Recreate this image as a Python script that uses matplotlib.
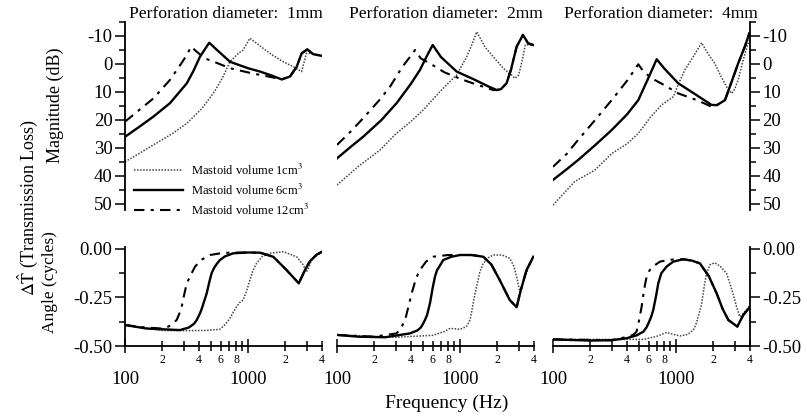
import matplotlib
matplotlib.use("Agg")
import matplotlib.pyplot as plt
from matplotlib.ticker import FixedLocator, FuncFormatter, NullLocator

plt.rcParams["font.family"] = ["Liberation Serif", "DejaVu Serif"]
plt.rcParams["mathtext.fontset"] = "stix"
plt.rcParams["axes.unicode_minus"] = False

DIAMETERS = ["1mm", "2mm", "4mm"]
VOLUME_LABELS = ["Mastoid volume 1cm$^3$", "Mastoid volume 6cm$^3$", "Mastoid volume 12cm$^3$"]

# ---- magnitude (dB), perforation 1mm ----
MAG1_F_V1 = [100, 130, 170, 240, 318, 420, 522, 620, 714, 834, 914, 1036, 1250, 1508, 1900, 2342, 2731, 2988, 3290, 3600, 4000]
MAG1_V1 = [34.9, 32, 28.9, 25, 21.2, 16, 10.5, 5, -0.8, -3.8, -5, -9.2, -6.5, -3.8, -1, 1, 2.7, -3.8, -3.8, -3.3, -2.9]
MAG1_F_V6 = [100, 130, 170, 232, 318, 360, 407, 484, 560, 714, 1000, 1253, 1600, 1879, 2193, 2490, 2731, 3036, 3400, 4000]
MAG1_V6 = [26, 22.5, 18.8, 14, 6.9, 2.5, -2.6, -7.6, -5, -0.8, 1.5, 2.7, 4.3, 5.5, 4.5, 1, -3.8, -5.2, -3.5, -2.9]
MAG1_F_V12 = [100, 130, 170, 232, 290, 318, 345, 380, 448, 550, 714, 1000, 1253, 1600, 1879, 2193, 2490, 2731, 3036, 3400, 4000]
MAG1_V12 = [20.6, 16.5, 12.3, 5.7, -0.5, -3.2, -6.2, -4.5, -2, -0.5, 1.5, 3, 3.9, 4.8, 5.5, 4.5, 1, -3.8, -5.2, -3.5, -2.9]

# ---- magnitude (dB), perforation 2mm ----
MAG2_F_V1 = [100, 150, 224, 300, 400, 503, 700, 940, 1136, 1250, 1370, 1600, 1863, 2250, 2625, 2800, 3000, 3165, 3400, 4000]
MAG2_V1 = [43.2, 36.5, 30.7, 25, 20.5, 16.4, 9.5, 3.9, -2.6, -7, -11.5, -6, -2.6, 1.5, 3.9, 5.1, 4, -0.2, -6.8, -6.8]
MAG2_F_V6 = [100, 130, 163, 230, 305, 400, 473, 540, 600, 700, 940, 1300, 1700, 1989, 2150, 2392, 2600, 2890, 3254, 3578, 3940]
MAG2_V6 = [33.7, 29.5, 26, 20, 14, 7, 2.1, -3, -6.8, -2.5, 2.7, 5.5, 8, 9.3, 9, 6.9, 2, -6.2, -10.4, -7.4, -6.8]
MAG2_F_V12 = [100, 130, 163, 220, 270, 340, 400, 431, 480, 570, 750, 1064, 1400, 1863, 1989, 2150, 2392, 2600, 2890, 3254, 3578, 3940]
MAG2_V12 = [28.9, 24, 19.4, 13, 8.1, 1, -3, -5, -2, -0.2, 3, 5.7, 7.5, 9.3, 9.3, 9, 6.9, 2, -6.2, -10.4, -7.4, -6.8]

# ---- magnitude (dB), perforation 4mm ----
MAG3_F_V1 = [100, 150, 219, 300, 400, 494, 620, 765, 952, 1050, 1181, 1400, 1618, 1800, 2068, 2300, 2574, 2840, 3000, 3204, 3500, 3860, 4000]
MAG3_V1 = [50.4, 42, 37.9, 32, 28.5, 24.8, 19, 14.6, 11.7, 7, 2.1, -3, -7.6, -4, -0.2, 4, 8.1, 10.5, 9, 5.7, -1, -7.4, -9]
MAG3_F_V6 = [100, 130, 160, 220, 300, 400, 494, 595, 697, 800, 1043, 1400, 1944, 2150, 2504, 2800, 3204, 3630, 3950]
MAG3_V6 = [41.4, 37.5, 34.3, 29, 23.6, 18, 12.9, 5.1, -1.7, 1.5, 6.9, 10.5, 14.6, 14.7, 12.9, 7, -0.2, -6.2, -11]
MAG3_F_V12 = [100, 130, 160, 220, 300, 400, 494, 540, 634, 800, 1043, 1500, 2004, 2150, 2504, 2800, 3204, 3630, 3950]
MAG3_V12 = [36.7, 32, 27.1, 20, 12.9, 6, 0.1, 2.5, 5.1, 7.5, 10.5, 13, 15.5, 14.7, 12.9, 7, -0.2, -6.2, -11]

# ---- angle (cycles), perforation 1mm ----
ANG1_F_V1 = [100, 200, 318, 450, 591, 650, 714, 760, 808, 860, 914, 970, 1036, 1100, 1174, 1300, 1508, 1936, 2484, 2800, 2988, 3100, 3283, 3600, 4000]
ANG1_V1 = [-0.392, -0.42, -0.421, -0.42, -0.414, -0.39, -0.357, -0.325, -0.297, -0.275, -0.263, -0.22, -0.16, -0.11, -0.074, -0.04, -0.022, -0.014, -0.04, -0.08, -0.117, -0.1, -0.057, -0.035, -0.014]
ANG1_F_V6 = [100, 150, 205, 280, 330, 365, 383, 405, 420, 440, 462, 485, 506, 530, 560, 591, 650, 760, 1000, 1253, 1606, 2057, 2588, 2900, 3175, 3600, 4000]
ANG1_V6 = [-0.392, -0.41, -0.414, -0.418, -0.405, -0.385, -0.366, -0.335, -0.31, -0.27, -0.228, -0.17, -0.125, -0.098, -0.075, -0.057, -0.038, -0.022, -0.018, -0.019, -0.04, -0.108, -0.177, -0.11, -0.065, -0.03, -0.014]
ANG1_F_V12 = [100, 150, 200, 225, 245, 263, 276, 289, 303, 318, 345, 371, 420, 491, 600, 700, 1000, 1253, 1606, 2057, 2588, 2900, 3175, 3600, 4000]
ANG1_V12 = [-0.392, -0.405, -0.41, -0.4, -0.385, -0.366, -0.335, -0.297, -0.235, -0.177, -0.13, -0.091, -0.055, -0.031, -0.022, -0.019, -0.018, -0.019, -0.04, -0.108, -0.177, -0.11, -0.065, -0.03, -0.014]

# ---- angle (cycles), perforation 2mm ----
ANG2_F_V1 = [100, 300, 600, 750, 832, 1000, 1130, 1206, 1240, 1280, 1320, 1365, 1450, 1545, 1700, 1863, 2200, 2540, 2750, 2890, 3082, 3200, 3380, 3700, 3950]
ANG2_V1 = [-0.443, -0.455, -0.445, -0.425, -0.409, -0.414, -0.4, -0.366, -0.33, -0.28, -0.235, -0.194, -0.12, -0.074, -0.045, -0.031, -0.031, -0.048, -0.09, -0.143, -0.228, -0.19, -0.143, -0.08, -0.04]
ANG2_F_V6 = [100, 150, 246, 392, 450, 480, 503, 520, 540, 555, 570, 585, 600, 626, 650, 680, 731, 850, 1000, 1250, 1550, 1800, 2105, 2540, 2890, 3100, 3480, 3950]
ANG2_V6 = [-0.443, -0.452, -0.455, -0.435, -0.42, -0.405, -0.383, -0.365, -0.34, -0.31, -0.28, -0.24, -0.2, -0.143, -0.11, -0.09, -0.057, -0.04, -0.031, -0.031, -0.04, -0.08, -0.16, -0.263, -0.3, -0.22, -0.108, -0.04]
ANG2_F_V12 = [100, 200, 305, 330, 358, 380, 405, 440, 473, 530, 605, 800, 1000, 1250, 1550, 1800, 2105, 2540, 2890, 3100, 3480, 3950]
ANG2_V12 = [-0.443, -0.452, -0.435, -0.41, -0.366, -0.3, -0.228, -0.15, -0.108, -0.065, -0.04, -0.031, -0.031, -0.031, -0.04, -0.08, -0.16, -0.263, -0.3, -0.22, -0.108, -0.04]

# ---- angle (cycles), perforation 4mm ----
ANG3_F_V1 = [100, 543, 700, 838, 950, 1077, 1250, 1382, 1450, 1500, 1560, 1620, 1700, 1772, 1900, 2069, 2300, 2577, 2850, 3108, 3300, 3630, 4000]
ANG3_V1 = [-0.466, -0.466, -0.45, -0.43, -0.44, -0.448, -0.44, -0.418, -0.39, -0.36, -0.32, -0.28, -0.19, -0.125, -0.08, -0.071, -0.09, -0.125, -0.21, -0.297, -0.349, -0.323, -0.29]
ANG3_F_V6 = [100, 200, 300, 397, 480, 543, 575, 600, 628, 654, 670, 690, 718, 760, 838, 950, 1146, 1350, 1565, 1850, 2140, 2400, 2667, 3152, 3529, 3990]
ANG3_V6 = [-0.466, -0.472, -0.47, -0.46, -0.445, -0.426, -0.405, -0.38, -0.35, -0.314, -0.28, -0.24, -0.177, -0.125, -0.091, -0.065, -0.053, -0.06, -0.074, -0.14, -0.228, -0.31, -0.366, -0.4, -0.34, -0.3]
ANG3_F_V12 = [100, 300, 420, 455, 478, 500, 526, 550, 577, 610, 650, 742, 900, 1146, 1350, 1565, 1850, 2140, 2400, 2667, 3152, 3529, 3990]
ANG3_V12 = [-0.466, -0.47, -0.45, -0.44, -0.426, -0.37, -0.297, -0.21, -0.143, -0.11, -0.09, -0.065, -0.055, -0.053, -0.06, -0.074, -0.14, -0.228, -0.31, -0.366, -0.4, -0.34, -0.3]

MAG_CURVES = [
    [(MAG1_F_V1, MAG1_V1), (MAG1_F_V6, MAG1_V6), (MAG1_F_V12, MAG1_V12)],
    [(MAG2_F_V1, MAG2_V1), (MAG2_F_V6, MAG2_V6), (MAG2_F_V12, MAG2_V12)],
    [(MAG3_F_V1, MAG3_V1), (MAG3_F_V6, MAG3_V6), (MAG3_F_V12, MAG3_V12)],
]
ANG_CURVES = [
    [(ANG1_F_V1, ANG1_V1), (ANG1_F_V6, ANG1_V6), (ANG1_F_V12, ANG1_V12)],
    [(ANG2_F_V1, ANG2_V1), (ANG2_F_V6, ANG2_V6), (ANG2_F_V12, ANG2_V12)],
    [(ANG3_F_V1, ANG3_V1), (ANG3_F_V6, ANG3_V6), (ANG3_F_V12, ANG3_V12)],
]

STYLES = [
    dict(color="#444444", lw=1.1, linestyle=(0, (1, 1))),
    dict(color="black", lw=1.7, linestyle="-"),
    dict(color="black", lw=1.5, linestyle=(0, (5, 3, 1.5, 3))),
]

W, H = 807, 419
fig = plt.figure(figsize=(W / 100, H / 100), dpi=100)


def add_px_axes(x0, x1, y0, y1):
    return fig.add_axes([x0 / W, 1 - y1 / H, (x1 - x0) / W, (y1 - y0) / H])


PANEL_X = [(125, 322), (337, 534), (553, 750)]
TITLE_X = [226, 446, 661]
TICK_FS = 13.5

minor_f = [200, 300, 400, 500, 600, 700, 800, 900, 2000, 3000, 4000]


def minor_label(v, pos):
    lead = int(round(v / (1000 if v >= 1000 else 100)))
    return str(lead) if lead % 2 == 0 else ""


def style_y(ax, i):
    ax.tick_params(axis="y", which="major", length=7, width=1.1, labelsize=TICK_FS, pad=2)
    ax.tick_params(axis="y", which="minor", length=4, width=1.1)
    if i == 0:
        ax.spines["left"].set_visible(True)
        ax.spines["left"].set_linewidth(1.3)
    elif i == 2:
        ax.spines["right"].set_visible(True)
        ax.spines["right"].set_linewidth(1.3)
        ax.yaxis.tick_right()
    else:
        ax.yaxis.set_major_locator(NullLocator())
        ax.yaxis.set_minor_locator(NullLocator())


for i, (x0, x1) in enumerate(PANEL_X):
    # magnitude panel
    ax = add_px_axes(x0, x1, 22, 209.6)
    for (f, v), st in zip(MAG_CURVES[i], STYLES):
        ax.plot(f, v, **st)
    ax.set_xscale("log")
    ax.set_xlim(100, 4000)
    ax.set_ylim(52, -15)
    for s in ax.spines.values():
        s.set_visible(False)
    ax.xaxis.set_major_locator(NullLocator())
    ax.xaxis.set_minor_locator(NullLocator())
    ax.yaxis.set_major_locator(FixedLocator([-10, 0, 10, 20, 30, 40, 50]))
    ax.yaxis.set_minor_locator(FixedLocator([-15, -5, 5, 15, 25, 35, 45]))
    style_y(ax, i)
    ax.patch.set_visible(False)
    fig.text(TITLE_X[i] / W, 1 - 14 / H, f"Perforation diameter:  {DIAMETERS[i]}",
             ha="center", va="center", fontsize=12.6)
    if i == 0:
        ax.legend(VOLUME_LABELS, loc="lower left", bbox_to_anchor=(0.02, -0.07),
                  frameon=False, fontsize=9, handlelength=3.9, handletextpad=0.7,
                  labelspacing=0.4, borderaxespad=0)

    # angle panel
    ax = add_px_axes(x0, x1, 247, 346)
    for (f, v), st in zip(ANG_CURVES[i], STYLES):
        ax.plot(f, v, **st)
    ax.set_xscale("log")
    ax.set_xlim(100, 4000)
    ax.set_ylim(-0.5, 0.0103)
    for name in ["top", "left", "right"]:
        ax.spines[name].set_visible(False)
    ax.spines["bottom"].set_linewidth(1.3)
    ax.xaxis.set_major_locator(FixedLocator([100, 1000]))
    ax.xaxis.set_minor_locator(FixedLocator(minor_f))
    ax.xaxis.set_minor_formatter(FuncFormatter(minor_label))
    ax.xaxis.set_major_formatter(FuncFormatter(lambda v, p: f"{int(v)}"))
    ax.tick_params(axis="x", which="major", direction="inout", length=10, width=1.1,
                   labelsize=TICK_FS, pad=13)
    ax.tick_params(axis="x", which="minor", direction="inout", length=7, width=1.1,
                   labelsize=8.5, pad=2.5)
    ax.yaxis.set_major_locator(FixedLocator([0, -0.25, -0.5]))
    ax.yaxis.set_minor_locator(FixedLocator([-0.125, -0.375]))
    ax.yaxis.set_major_formatter(FuncFormatter(lambda v, p: f"{v:.2f}"))
    style_y(ax, i)
    ax.patch.set_visible(False)

fig.text(55 / W, 1 - 105 / H, "Magnitude (dB)", rotation=90, ha="center", va="center", fontsize=13)
fig.text(50 / W, 1 - 282 / H, "Angle (cycles)", rotation=90, ha="center", va="center", fontsize=12.5)
fig.text(28 / W, 1 - 207 / H, r"$\Delta\hat{\mathrm{T}}$ (Transmission Loss)", rotation=90,
         ha="center", va="center", fontsize=13)
fig.text(447 / W, 1 - 403 / H, "Frequency (Hz)", ha="center", va="center", fontsize=14)

fig.savefig("out.png", dpi=100, facecolor="white")
